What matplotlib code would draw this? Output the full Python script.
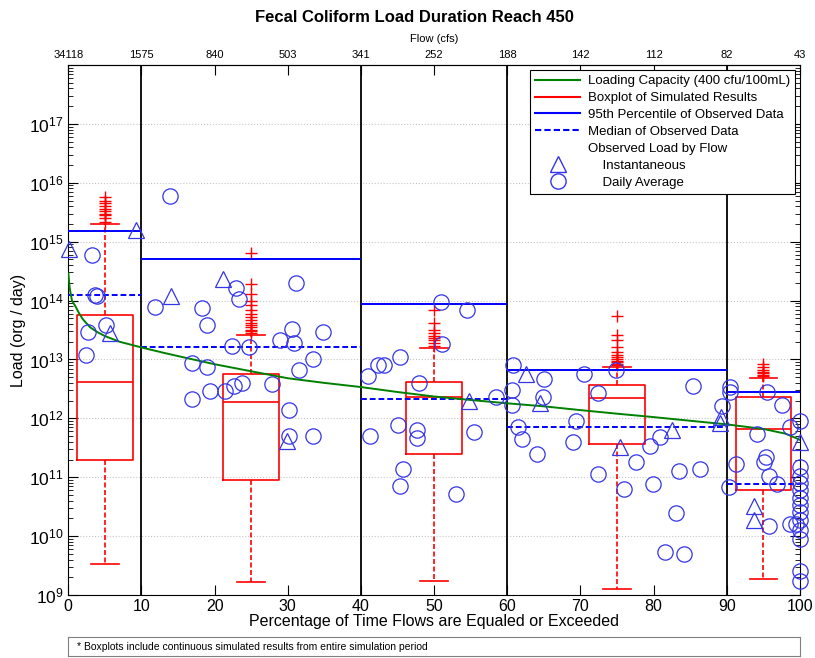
import matplotlib.pyplot as plt
from matplotlib.lines import Line2D
from matplotlib.ticker import LogLocator, NullFormatter, LogFormatterSciNotation

plt.rcParams['font.family'] = ['Liberation Sans', 'DejaVu Sans']
plt.rcParams['mathtext.fontset'] = 'custom'
plt.rcParams['mathtext.rm'] = 'Liberation Sans'
plt.rcParams['mathtext.it'] = 'Liberation Sans:italic'
plt.rcParams['mathtext.bf'] = 'Liberation Sans:bold'

# ---- data ----
pct_ticks = [0, 10, 20, 30, 40, 50, 60, 70, 80, 90, 100]
flow_labels = ['34118', '1575', '840', '503', '341', '252', '188', '142', '112', '82', '43']
zone_edges = [0, 10, 40, 60, 90, 100]
zone_p95 = [1.5e15, 5.1e14, 8.7e13, 6.5e12, 2.8e12]
zone_median = [1.25e14, 1.66e13, 2.15e12, 7.1e11, 7.6e10]

# loading capacity curve (400 cfu/100mL)
cap_pct = [0, 0.2, 0.5, 1, 1.5, 2, 3, 4, 5, 7, 10, 13, 16, 20, 25, 30, 35, 40, 45,
           50, 55, 60, 65, 70, 75, 80, 85, 90, 95, 98, 99.5, 100]
cap_load = [2.9e14, 1.6e14, 1.0e14, 7.9e13, 6.0e13, 4.8e13, 3.5e13, 2.9e13, 2.5e13,
            2.0e13, 1.6e13, 1.3e13, 1.07e13, 8.3e12, 6.3e12, 4.8e12, 4.0e12, 3.4e12,
            2.8e12, 2.35e12, 2.05e12, 1.8e12, 1.6e12, 1.38e12, 1.2e12, 1.05e12,
            9.1e11, 7.9e11, 6.6e11, 5.5e11, 4.6e11, 4.3e11]

# simulated boxplots
box_pos = [5, 25, 50, 75, 95]
box_q1 = [2.0e11, 9.1e10, 2.5e11, 3.7e11, 6.0e10]
box_med = [4.2e12, 1.9e12, 2.3e12, 2.2e12, 6.5e11]
box_q3 = [5.8e13, 5.6e12, 4.2e12, 3.7e12, 2.3e12]
box_lo = [3.3e9, 1.64e9, 1.7e9, 1.25e9, 1.85e9]
box_hi = [2.0e15, 2.6e13, 1.55e13, 7.4e12, 4.9e12]
box_fliers = [
    [2.2e15, 2.5e15, 2.8e15, 3.0e15, 3.3e15, 3.6e15, 4.0e15, 4.5e15, 5.0e15, 5.8e15],
    [2.8e13, 3.0e13, 3.2e13, 3.5e13, 3.8e13, 4.2e13, 4.6e13, 5.2e13, 6.0e13, 7.0e13,
     8.5e13, 1.0e14, 1.3e14, 1.9e14, 6.5e14],
    [1.7e13, 1.9e13, 2.1e13, 2.3e13, 2.5e13, 2.8e13, 3.2e13, 4.2e13, 6.8e13],
    [8.0e12, 8.5e12, 9.0e12, 9.6e12, 1.02e13, 1.1e13, 1.2e13, 1.35e13, 1.6e13,
     2.1e13, 2.6e13, 5.4e13],
    [5.2e12, 5.5e12, 5.8e12, 6.2e12, 6.7e12, 7.5e12, 8.5e12],
]

# observed loads, instantaneous
tri_pct = [0.14, 9.26, 5.7, 14.1, 21.1, 29.95, 54.7, 62.6, 64.5, 75.4, 82.5, 89.2,
           89.0, 93.7, 93.7, 100]
tri_load = [7.6e14, 1.55e15, 2.8e13, 1.2e14, 2.3e14, 4.2e11, 2.0e12, 5.7e12, 1.8e12,
            3.2e11, 6.3e11, 1.05e12, 8.5e11, 3.2e10, 1.87e10, 4.0e11]

# observed loads, daily average
circ_pct = [3.3, 3.6, 3.9, 5.1, 2.65, 2.4,
            13.9, 11.9, 18.3, 19.0, 16.9, 18.9, 16.9, 19.4, 21.4, 22.7, 23.7, 22.9,
            23.35, 31.1, 30.6, 34.8, 28.95, 30.9, 22.4, 24.7, 33.5, 31.5, 27.8, 30.1,
            30.2, 33.5,
            51.0, 54.5, 51.1, 45.3, 43.2, 42.3, 41.0, 47.9, 58.4, 45.05, 47.6, 47.7,
            41.3, 55.4, 45.8, 45.4, 53.0,
            60.8, 60.7, 60.6, 61.4, 62.0, 65.0, 70.45, 74.8, 85.4, 64.9, 64.1, 69.4,
            69.0, 72.4, 72.4, 77.6, 75.9, 79.5, 80.85, 79.9, 83.4, 86.3, 83.0, 81.5,
            84.1, 89.4,
            90.5, 90.4, 90.3, 91.2, 95.5, 97.6, 94.1, 95.3, 95.1, 95.7, 96.8, 95.8,
            98.6, 99.5, 100, 98.6, 100, 100, 100, 100, 100, 100, 100, 100, 100, 100,
            100, 100]
circ_load = [6.0e14, 1.25e14, 1.2e14, 3.9e13, 2.9e13, 1.2e13,
             6.0e15, 7.8e13, 7.4e13, 3.9e13, 8.7e12, 7.4e12, 2.15e12, 2.9e12, 2.9e12,
             3.6e12, 4.0e12, 1.66e14, 1.05e14, 2.0e14, 3.3e13, 2.9e13, 2.1e13, 1.9e13,
             1.7e13, 1.6e13, 1.0e13, 6.7e12, 3.8e12, 1.37e12, 5.0e11, 5.1e11,
             9.5e13, 7.0e13, 1.8e13, 1.1e13, 8.2e12, 7.9e12, 5.2e12, 4.0e12, 2.3e12,
             7.6e11, 6.3e11, 4.6e11, 5.1e11, 5.8e11, 1.37e11, 7.1e10, 5.1e10,
             7.9e12, 3.0e12, 1.7e12, 7.1e11, 4.4e11, 4.6e12, 5.6e12, 6.7e12, 3.5e12,
             2.3e12, 2.45e11, 8.9e11, 4.0e11, 2.7e12, 1.15e11, 1.85e11, 6.3e10,
             3.4e11, 4.9e11, 7.8e10, 1.27e11, 1.37e11, 2.5e10, 5.3e9, 4.9e9, 1.65e12,
             3.4e12, 2.8e12, 6.9e10, 1.65e11, 2.8e12, 1.66e12, 5.5e11, 2.2e11, 1.8e11,
             1.07e11, 7.8e10, 1.5e10, 1.6e10, 1.6e10, 8.9e11, 7.2e11, 1.48e11,
             1.07e11, 7.9e10, 6.0e10, 4.4e10, 3.4e10, 2.6e10, 1.9e10, 1.26e10, 8.9e9,
             2.6e9, 1.7e9]

green = '#008000'
red = '#ff0000'
blue = '#0000ff'
mblue = '#3434e8'

fig = plt.figure(figsize=(8.15, 6.58), dpi=100)
ax = fig.add_axes([0.0838, 0.0957, 0.8978, 0.8055])
ax.set_yscale('log')
ax.set_xlim(0, 100)
ax.set_ylim(1e9, 1e18)

ax.yaxis.grid(True, which='major', linestyle=':', color='#c8c8c8', linewidth=0.8)
ax.set_axisbelow(True)

for x in zone_edges[1:-1]:
    ax.axvline(x, color='black', lw=1.3, zorder=2)

stats = []
for i in range(len(box_pos)):
    stats.append(dict(med=box_med[i], q1=box_q1[i], q3=box_q3[i],
                      whislo=box_lo[i], whishi=box_hi[i], fliers=box_fliers[i]))
ax.bxp(stats, positions=box_pos, widths=7.6, manage_ticks=False,
       boxprops=dict(color=red, lw=1.2),
       whiskerprops=dict(color=red, lw=1.2, ls=(0, (3, 1.5))),
       capprops=dict(color=red, lw=1.2),
       medianprops=dict(color=red, lw=1.2),
       flierprops=dict(marker='+', markeredgecolor=red, markersize=8, ls='none',
                       markeredgewidth=1.0), zorder=3)

ax.hlines(zone_p95, zone_edges[:-1], zone_edges[1:], colors=blue, lw=1.4, zorder=4)
ax.hlines(zone_median, zone_edges[:-1], zone_edges[1:], colors=blue, lw=1.4,
          linestyles=(0, (3, 1.5)), zorder=4)

ax.plot(cap_pct, cap_load, color=green, lw=1.4, zorder=5)

ax.plot(tri_pct, tri_load, '^', ms=12, mfc='none', mec=mblue, mew=0.9, zorder=6,
        clip_on=False)
ax.plot(circ_pct, circ_load, 'o', ms=11, mfc='none', mec=mblue, mew=0.9, zorder=6,
        clip_on=False)

# axes styling
ax.set_yticks([10.0 ** k for k in range(9, 18)])
ax.yaxis.set_major_formatter(LogFormatterSciNotation())
ax.yaxis.set_minor_locator(LogLocator(base=10, subs=range(2, 10), numticks=20))
ax.yaxis.set_minor_formatter(NullFormatter())
ax.set_xticks(pct_ticks)
ax.tick_params(axis='both', which='both', direction='in', right=True)
ax.tick_params(axis='y', which='major', length=7, labelsize=12.5)
ax.tick_params(axis='y', which='minor', length=3.5)
ax.tick_params(axis='x', which='major', length=7, labelsize=11.5, pad=2.5)

top = ax.secondary_xaxis('top')
top.set_xticks(pct_ticks, labels=flow_labels)
top.tick_params(direction='in', length=7, labelsize=8)
top.set_xlabel('Flow (cfs)', fontsize=8, labelpad=6)

ax.set_xlabel('Percentage of Time Flows are Equaled or Exceeded', fontsize=11.5,
              labelpad=0)
ax.set_ylabel('Load (org / day)', fontsize=11.5)
ax.yaxis.set_label_coords(-0.058, 0.5)

fig.text(0.508, 0.974, 'Fecal Coliform Load Duration Reach 450', ha='center',
         va='center', fontsize=12, fontweight='bold')

handles = [Line2D([], [], color=green, lw=1.5),
           Line2D([], [], color=red, lw=1.5),
           Line2D([], [], color=blue, lw=1.5),
           Line2D([], [], color=blue, lw=1.5, ls=(0, (3, 1.5))),
           Line2D([], [], ls='none'),
           Line2D([], [], marker='^', ls='none', mfc='none', mec=mblue, ms=12),
           Line2D([], [], marker='o', ls='none', mfc='none', mec=mblue, ms=11)]
labels = ['Loading Capacity (400 cfu/100mL)', 'Boxplot of Simulated Results',
          '95th Percentile of Observed Data', 'Median of Observed Data',
          'Observed Load by Flow', '    Instantaneous', '    Daily Average']
leg = ax.legend(handles, labels, loc='upper right', fontsize=9.5, handlelength=3.4,
                labelspacing=0.36, borderaxespad=0.35, fancybox=False,
                framealpha=1, edgecolor='black', handletextpad=0.6)
leg.get_frame().set_linewidth(0.8)
leg.set_zorder(10)

note_ax = fig.add_axes([0.0838, 2 / 658, 0.8978, 19 / 658])
note_ax.set_xticks([])
note_ax.set_yticks([])
for s in note_ax.spines.values():
    s.set_color('#808080')
    s.set_linewidth(0.8)
note_ax.text(0.012, 0.5, '* Boxplots include continuous simulated results from entire simulation period',
             va='center', ha='left', fontsize=7.5)

fig.savefig('out.png', dpi=100)
